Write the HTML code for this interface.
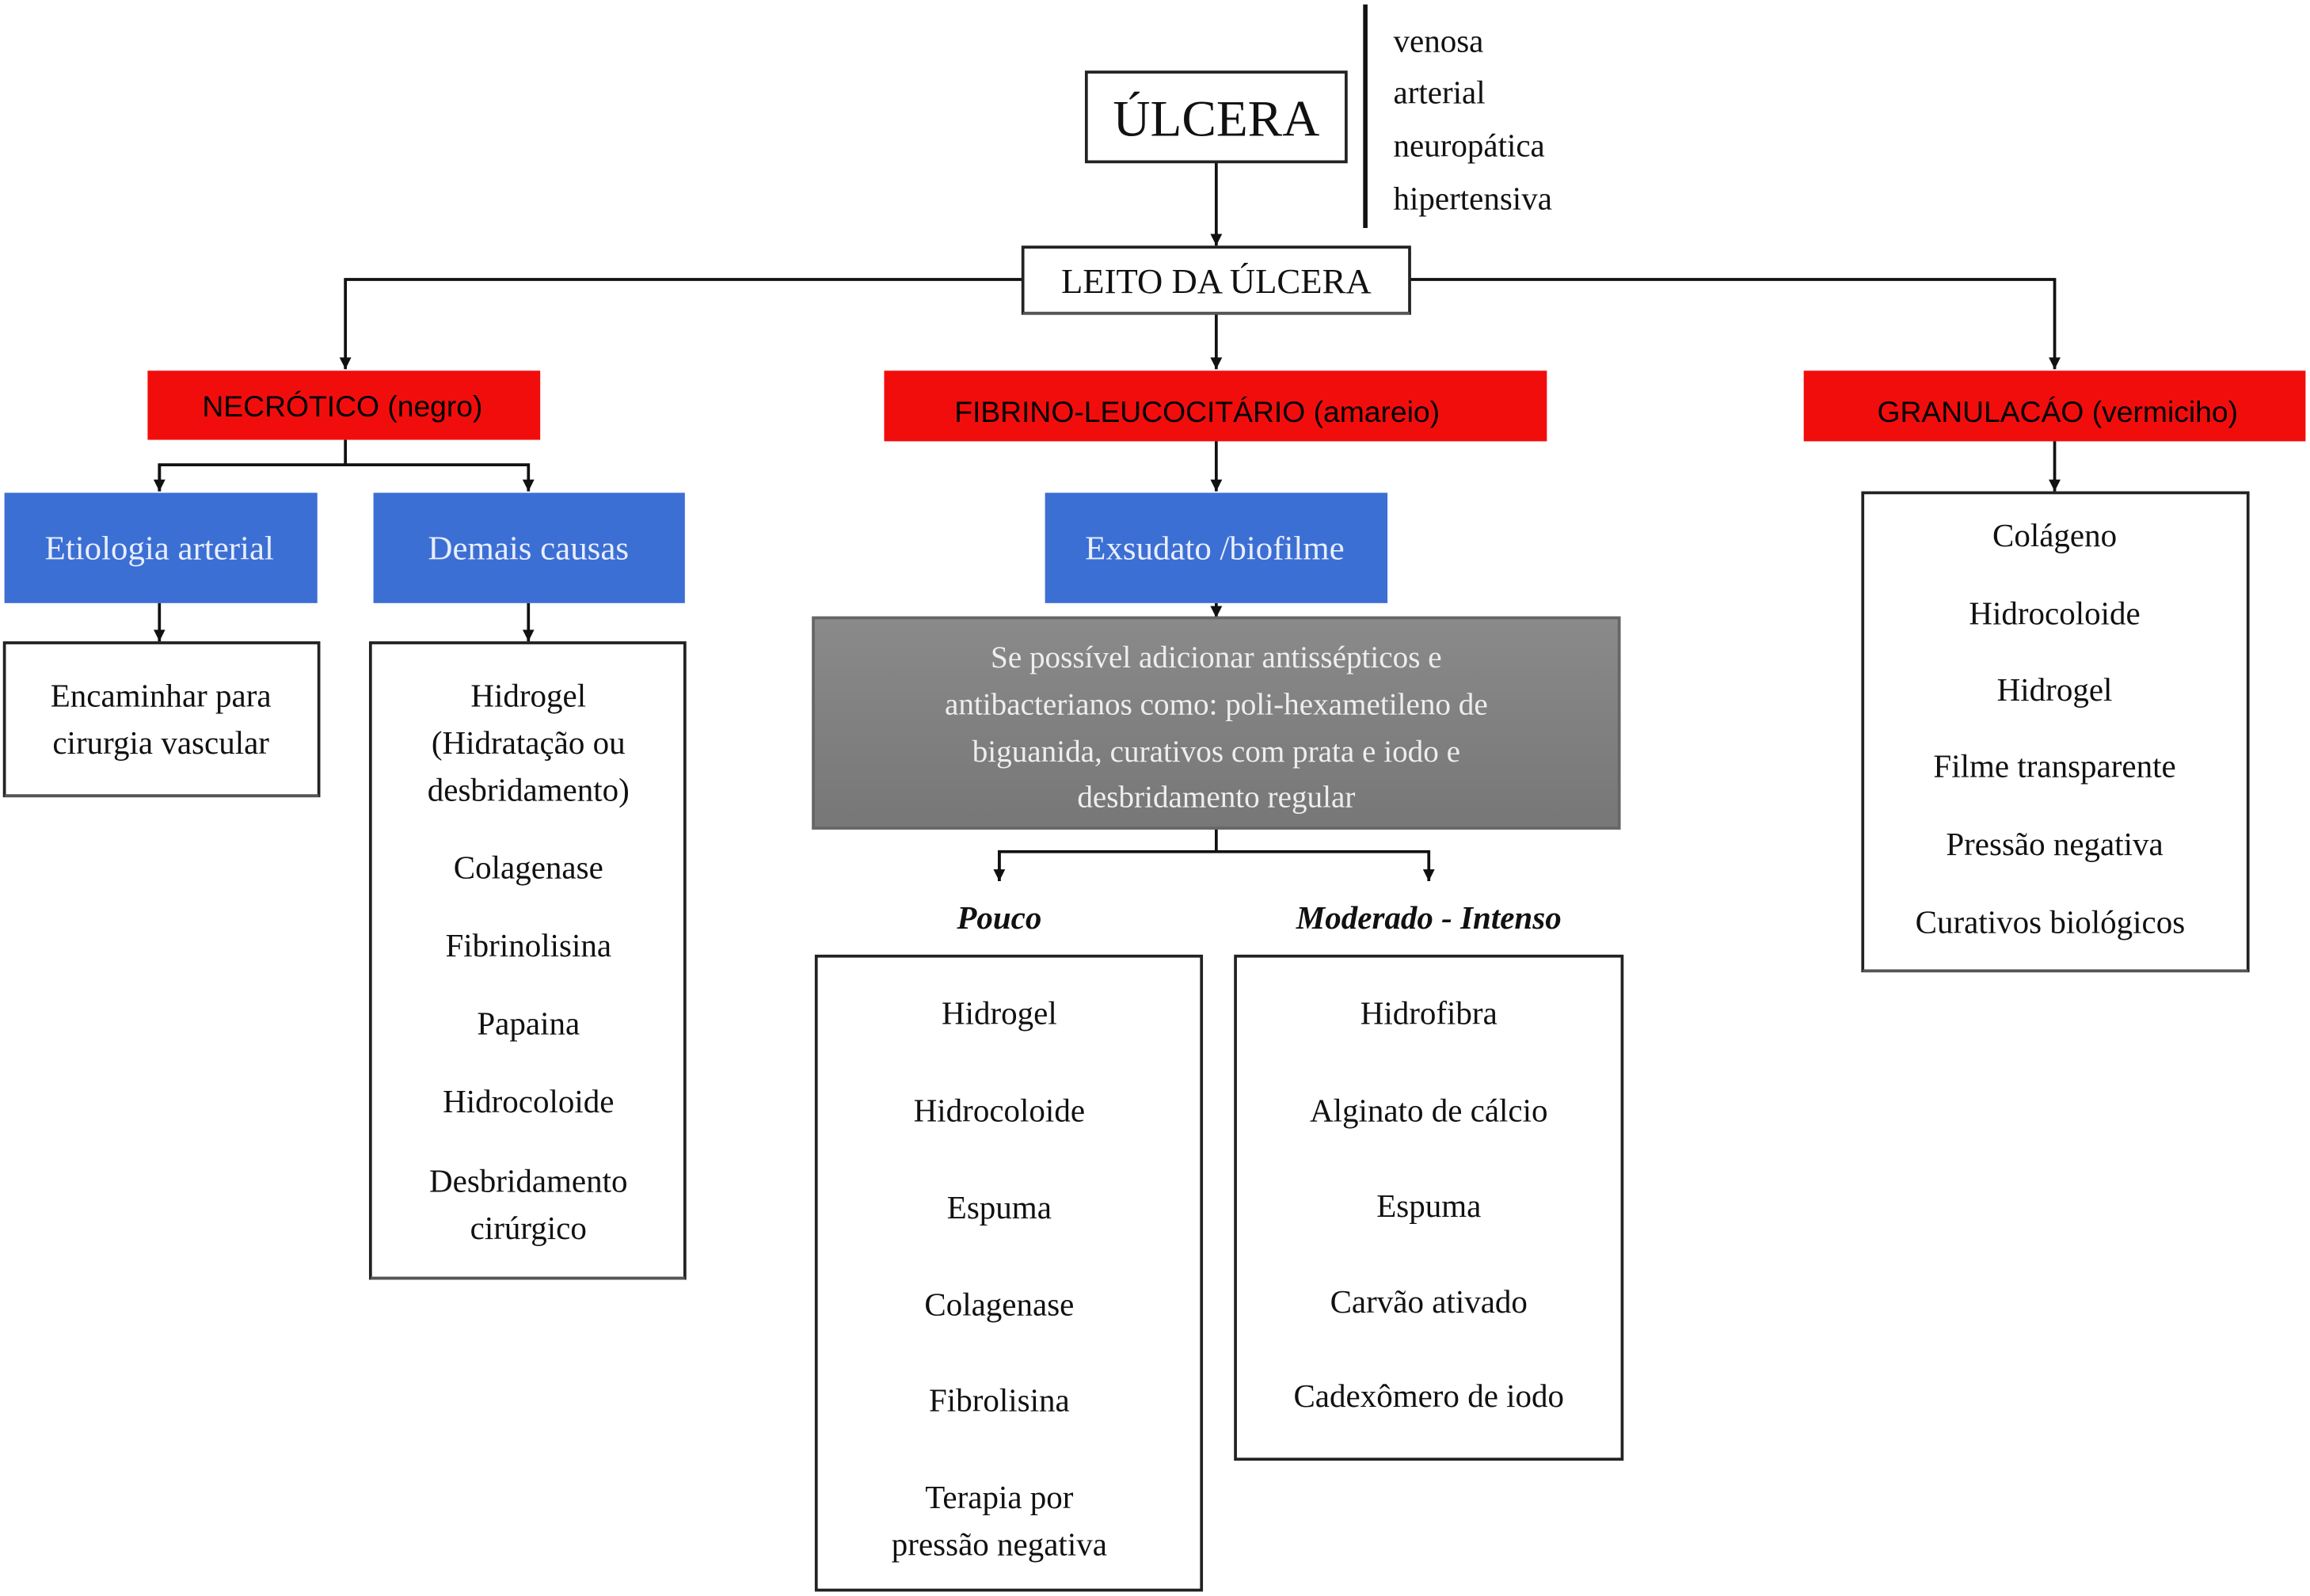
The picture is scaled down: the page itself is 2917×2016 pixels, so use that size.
<!DOCTYPE html>
<html><head><meta charset="utf-8"><style>
html,body{margin:0;padding:0;background:#fff;}
svg{display:block;}
.s{font-family:"Liberation Serif",serif;fill:#111;}
.a{font-family:"Liberation Sans",sans-serif;fill:#000;}
</style></head><body>
<svg width="2917" height="2016" viewBox="0 0 1565 1085" preserveAspectRatio="none" xmlns="http://www.w3.org/2000/svg">
<defs>
<marker id="ar" markerWidth="10" markerHeight="10" refX="4" refY="8" orient="0" markerUnits="userSpaceOnUse">
<path d="M0,0 L8,0 L4,8 Z" fill="#111"/></marker>
<linearGradient id="gg" x1="0" y1="0" x2="0" y2="1"><stop offset="0" stop-color="#8a8a8a"/><stop offset="1" stop-color="#777"/></linearGradient>
</defs>
<g stroke="#111" stroke-width="2" fill="none">
<line x1="925" y1="3" x2="925" y2="155" stroke-width="3"/>
<line x1="824" y1="110" x2="824" y2="167" marker-end="url(#ar)"/>
<polyline points="693,190 234,190 234,251" marker-end="url(#ar)"/>
<polyline points="955,190 1392,190 1392,251" marker-end="url(#ar)"/>
<line x1="824" y1="213" x2="824" y2="251" marker-end="url(#ar)"/>
<line x1="234" y1="299" x2="234" y2="316"/>
<polyline points="108,334 108,316 358,316 358,334" marker-end="url(#ar)"/>
<line x1="108" y1="316" x2="108" y2="334" marker-end="url(#ar)"/>
<line x1="824" y1="300" x2="824" y2="334" marker-end="url(#ar)"/>
<line x1="1392" y1="300" x2="1392" y2="334" marker-end="url(#ar)"/>
<line x1="108" y1="410" x2="108" y2="436" marker-end="url(#ar)"/>
<line x1="358" y1="410" x2="358" y2="436" marker-end="url(#ar)"/>
<line x1="824" y1="410" x2="824" y2="420" marker-end="url(#ar)"/>
<line x1="824" y1="563" x2="824" y2="579"/>
<polyline points="677,599 677,579 968,579 968,599" marker-end="url(#ar)"/>
<line x1="677" y1="579" x2="677" y2="599" marker-end="url(#ar)"/>
</g>
<g fill="#fff" stroke="#222" stroke-width="2">
<rect x="736" y="49" width="176" height="61"/>
<rect x="693" y="168" width="262" height="45"/>
<rect x="3" y="437" width="213" height="104"/>
<rect x="251" y="437" width="213" height="432"/>
<rect x="553" y="650" width="261" height="431"/>
<rect x="837" y="650" width="262" height="342"/>
<rect x="1262" y="335" width="261" height="325"/>
</g>
<g stroke="#555" stroke-width="2">
<line x1="693" y1="213" x2="955" y2="213"/>
<line x1="3" y1="541" x2="216" y2="541"/>
<line x1="251" y1="869" x2="464" y2="869"/>
<line x1="1262" y1="660" x2="1523" y2="660"/>
</g>
<g fill="#f20d0d">
<rect x="100" y="252" width="266" height="47"/>
<rect x="599" y="252" width="449" height="48"/>
<rect x="1222" y="252" width="340" height="48"/>
</g>
<g fill="#3c6fd4">
<rect x="3" y="335" width="212" height="75"/>
<rect x="253" y="335" width="211" height="75"/>
<rect x="708" y="335" width="232" height="75"/>
</g>
<rect x="551" y="420" width="546" height="143" fill="url(#gg)" stroke="#666" stroke-width="2"/>
<g class="s" dominant-baseline="central">
<text x="824" y="81" font-size="35" text-anchor="middle">ÚLCERA</text>
<text x="944" y="28" font-size="22">venosa</text>
<text x="944" y="63" font-size="22">arterial</text>
<text x="944" y="99" font-size="22">neuropática</text>
<text x="944" y="135" font-size="22">hipertensiva</text>
<text x="824" y="191" font-size="24" text-anchor="middle">LEITO DA ÚLCERA</text>
</g>
<g class="a" dominant-baseline="central" font-size="20" text-anchor="middle">
<text x="232" y="276">NECRÓTICO (negro)</text>
<text x="811" y="280">FIBRINO-LEUCOCITÁRIO (amareio)</text>
<text x="1394" y="280">GRANULACÁO (vermiciho)</text>
</g>
<g class="s" dominant-baseline="central" font-size="23" text-anchor="middle" style="fill:#e8eefc">
<text x="108" y="373">Etiologia arterial</text>
<text x="358" y="373">Demais causas</text>
<text x="823" y="373">Exsudato /biofilme</text>
</g>
<g class="s" dominant-baseline="central" font-size="21" text-anchor="middle" style="fill:#eee">
<text x="824" y="447">Se possível adicionar antissépticos e</text>
<text x="824" y="479">antibacterianos como: poli-hexametileno de</text>
<text x="824" y="511">biguanida, curativos com prata e iodo e</text>
<text x="824" y="542">desbridamento regular</text>
</g>
<g class="s" dominant-baseline="central" font-size="22" text-anchor="middle">
<text x="109" y="473">Encaminhar para</text>
<text x="109" y="505">cirurgia vascular</text>
<text x="358" y="473">Hidrogel</text>
<text x="358" y="505">(Hidratação ou</text>
<text x="358" y="537">desbridamento)</text>
<text x="358" y="590">Colagenase</text>
<text x="358" y="643">Fibrinolisina</text>
<text x="358" y="696">Papaina</text>
<text x="358" y="749">Hidrocoloide</text>
<text x="358" y="803">Desbridamento</text>
<text x="358" y="835">cirúrgico</text>
<text x="677" y="624" font-style="italic" font-weight="bold">Pouco</text>
<text x="968" y="624" font-style="italic" font-weight="bold">Moderado - Intenso</text>
<text x="677" y="689">Hidrogel</text>
<text x="677" y="755">Hidrocoloide</text>
<text x="677" y="821">Espuma</text>
<text x="677" y="887">Colagenase</text>
<text x="677" y="952">Fibrolisina</text>
<text x="677" y="1018">Terapia por</text>
<text x="677" y="1050">pressão negativa</text>
<text x="968" y="689">Hidrofibra</text>
<text x="968" y="755">Alginato de cálcio</text>
<text x="968" y="820">Espuma</text>
<text x="968" y="885">Carvão ativado</text>
<text x="968" y="949">Cadexômero de iodo</text>
<text x="1392" y="364">Colágeno</text>
<text x="1392" y="417">Hidrocoloide</text>
<text x="1392" y="469">Hidrogel</text>
<text x="1392" y="521">Filme transparente</text>
<text x="1392" y="574">Pressão negativa</text>
<text x="1389" y="627">Curativos biológicos</text>
</g>
</svg>
</body></html>
